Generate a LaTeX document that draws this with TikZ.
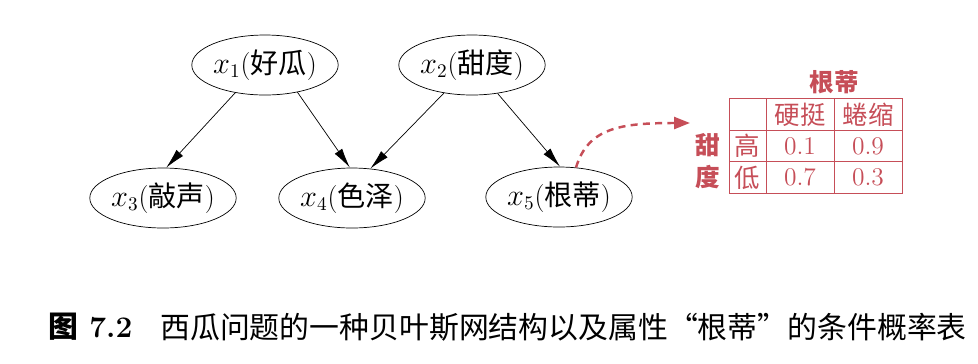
\documentclass[tikz,border=0pt]{standalone}
\usepackage{fontspec}
\newfontfamily\cjk{Noto Sans CJK SC}
\usetikzlibrary{arrows.meta, shapes.geometric}
\definecolor{tabred}{RGB}{198,78,88}

\begin{document}
\begin{tikzpicture}[
  x=0.02cm, y=-0.02cm,
  font=\fontsize{16}{18}\selectfont,
  var/.style={draw, ellipse, thin, inner sep=0pt, minimum width=2.8cm,
              minimum height=1.2cm},
  arr/.style={-{Latex[length=4mm, width=1.8mm]}, thin},
  dep/.style={-{Triangle[length=3.2mm, width=2.4mm]}, tabred, line width=1.4pt,
              dash pattern=on 4pt off 3pt},
  cell/.style={draw=tabred, thin, text=tabred, inner sep=0pt, minimum height=0.63cm,
               font=\fontsize{14.5}{16}\selectfont},
  lab/.style={text=tabred, inner sep=0pt, font=\fontsize{14}{16}\selectfont\cjk\bfseries}
]
\useasboundingbox (0,0) rectangle (978,363);

\node[var] (x1) at (265,65)  {$x_1$({\cjk 好瓜})};
\node[var] (x2) at (472,65)  {$x_2$({\cjk 甜度})};
\node[var] (x3) at (163,198) {$x_3$({\cjk 敲声})};
\node[var] (x4) at (352,198) {$x_4$({\cjk 色泽})};
\node[var] (x5) at (559,197) {$x_5$({\cjk 根蒂})};

\draw[arr] (x1.-137) -- (x3.84);
\draw[arr] (x1.-40)  -- (x4.94);
\draw[arr] (x2.-135) -- (x4.58);
\draw[arr] (x2.-48)  -- (x5.88);

% conditional table of x5
\node[cell, minimum width=0.74cm] (c00) at (747.5,114.5) {};
\node[cell, minimum width=1.36cm] (c01) at (800,114.5) {\cjk 硬挺};
\node[cell, minimum width=1.36cm] (c02) at (868,114.5) {\cjk 蜷缩};
\node[cell, minimum width=0.74cm] (c10) at (747.5,146) {\cjk 高};
\node[cell, minimum width=1.36cm] (c11) at (800,146) {0.1};
\node[cell, minimum width=1.36cm] (c12) at (868,146) {0.9};
\node[cell, minimum width=0.74cm] (c20) at (747.5,177.5) {\cjk 低};
\node[cell, minimum width=1.36cm] (c21) at (800,177.5) {0.7};
\node[cell, minimum width=1.36cm] (c22) at (868,177.5) {0.3};

\node[lab] (tabtitle) at (834,82) {根蒂};
\node[lab, align=center] (tabrow) at (708,161) {甜\\[2pt]度};

\coordinate (tip) at (690,123);
\draw[dep] (x5.60) .. controls (588,128) and (620,123) .. (tip);

\node[anchor=west, inner sep=0pt, font=\fontsize{17}{19}\selectfont\bfseries] (capnum)
  at (48,327) {{\cjk 图} 7.2};
\node[anchor=west, inner sep=0pt, font=\fontsize{17}{19}\selectfont\cjk] (captext)
  at (160,327) {西瓜问题的一种贝叶斯网结构以及属性“根蒂”的条件概率表};
\end{tikzpicture}
\end{document}
